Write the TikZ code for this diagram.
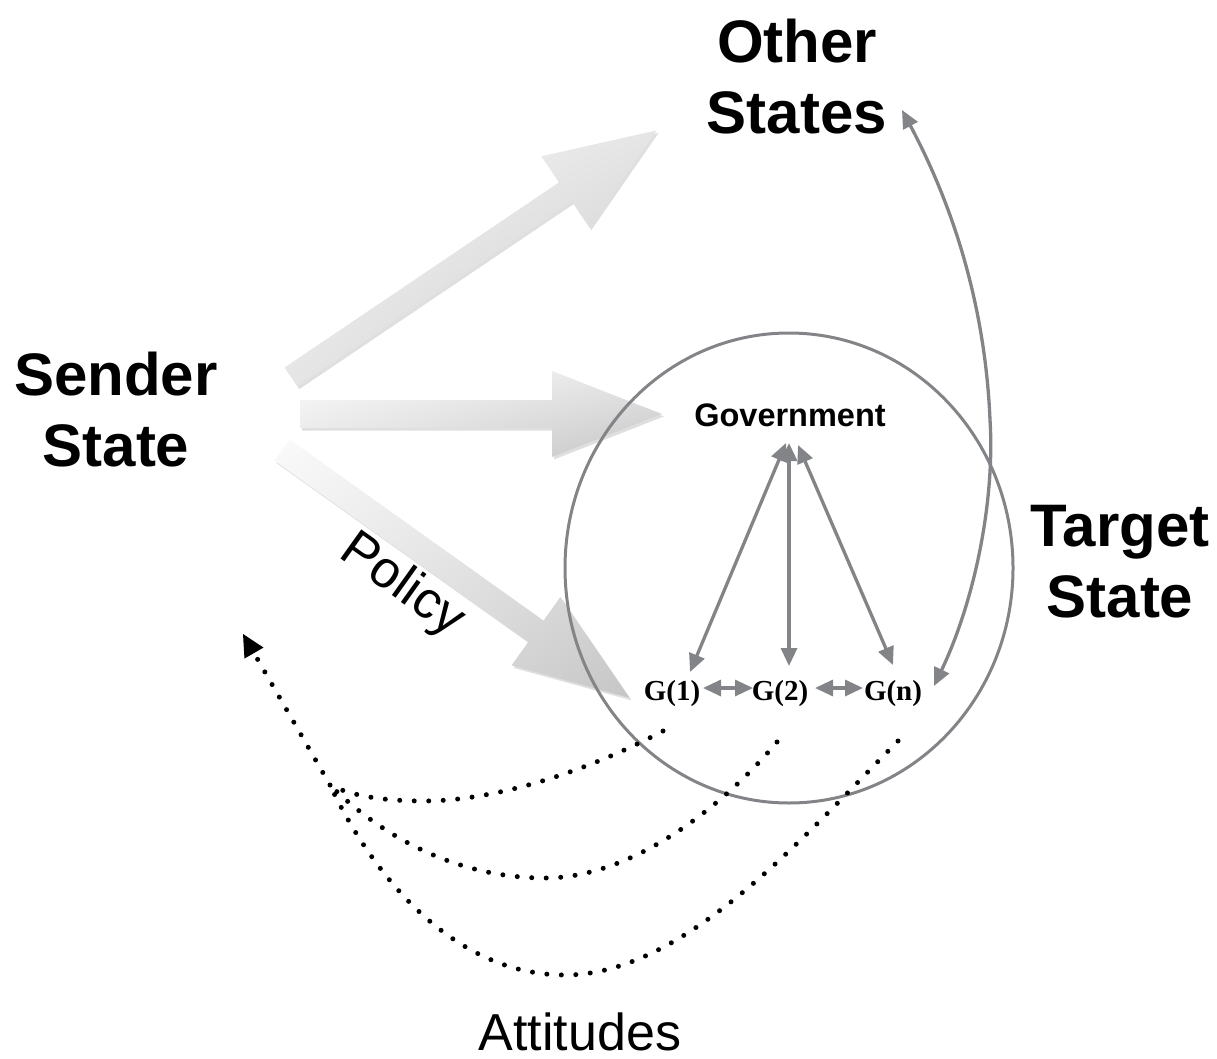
\documentclass[tikz,border=0pt]{standalone}
\usepackage{fontspec}
\setmainfont{Liberation Serif}
\setsansfont{Liberation Sans}
\usetikzlibrary{arrows.meta,shadows,shadings}
\definecolor{conncol}{RGB}{130,132,136}
\tikzset{
  fatstyle/.style={upper left=gray!4, upper right=gray!20, lower left=gray!20, lower right=gray!45,
    drop shadow={opacity=0.25, shadow xshift=2pt, shadow yshift=-2.5pt}},
  bigtext/.style={font=\sffamily\bfseries\fontsize{60}{71}\selectfont, align=center, inner sep=0pt},
  govtext/.style={font=\sffamily\bfseries\fontsize{32.5}{38}\selectfont, inner sep=0pt, anchor=base},
  gtext/.style={font=\rmfamily\bfseries\fontsize{29}{34}\selectfont, inner sep=0pt, anchor=base},
  thintext/.style={font=\sffamily\fontsize{52}{60}\selectfont, inner sep=0pt},
  conntip/.style={Triangle[length=18pt,width=16pt]},
  conn/.style={draw=conncol, line width=3.3pt, {Triangle[length=18pt,width=16pt]}-{Triangle[length=18pt,width=16pt]}},
  dots/.style={line width=5pt, dash pattern=on 0pt off 14.5pt, line cap=round}
}
\newcommand\fatarrow[7]{%
  \begin{scope}[shift={(#1,#2)},rotate=#3]
    \shade[fatstyle] (0,-#5) -- ({#4-#6},-#5) -- ({#4-#6},-#7) -- (#4,0) -- ({#4-#6},#7) -- ({#4-#6},#5) -- (0,#5) -- cycle;
  \end{scope}}
\begin{document}
\begin{tikzpicture}[x=1pt,y=-1pt]
\useasboundingbox (0,0) rectangle (1217,1059);
% big shaded arrows
\fatarrow{291}{377}{34}{441}{11.5}{110}{43}
\fatarrow{300}{414}{0}{362}{14}{110}{43}
\fatarrow{282}{450}{-35.5}{427}{13}{115}{42}
% target circle
\draw[conncol, line width=3pt] (789,568) ellipse [x radius=224pt, y radius=235pt];
% labels
\node[bigtext] (other) at (797,77) {Other\\States};
\node[bigtext] (sender) at (116,410) {Sender\\State};
\node[bigtext] (target) at (1120,562) {Target\\State};
\node[govtext] (gov) at (790,426) {Government};
\node[gtext] (g1) at (672,700) {G(1)};
\node[gtext] (g2) at (780,700) {G(2)};
\node[gtext] (gn) at (893,700) {G(n)};
\node[thintext, rotate=-35.5] (policy) at (402,586) {Policy};
\node[thintext, anchor=base] (att) at (580,1050) {Attitudes};
% connector end points
\coordinate (gv1) at (786,443);
\coordinate (gv2) at (789,443);
\coordinate (gv3) at (798,445);
\coordinate (g1t) at (690,672);
\coordinate (g2t) at (789,666);
\coordinate (gnt) at (893,665);
\coordinate (g1r) at (703,688);
\coordinate (g2l) at (753,688);
\coordinate (g2r) at (815,688);
\coordinate (gnl) at (863,688);
\coordinate (gnr) at (934,686);
\coordinate (ost) at (902,110);
% gray connectors
\draw[conn] (gv1) -- (g1t);
\draw[conn] (gv2) -- (g2t);
\draw[conn] (gv3) -- (gnt);
\draw[conn] (g1r) -- (g2l);
\draw[conn] (g2r) -- (gnl);
\draw[conn] (gnr) .. controls (975,600) and (995,500) .. (990,420) .. controls (985,300) and (950,200) .. (ost);
% dotted attitudes
\coordinate (d1) at (663,731);
\coordinate (d2) at (777,742);
\coordinate (d3) at (898,741);
\coordinate (dm) at (330,785);
\coordinate (dtip) at (243,634);
\draw[dots] (d1) .. controls (580,775) and (490,801) .. (424,801) .. controls (380,801) and (350,795) .. (dm);
\draw[dots] (d2) .. controls (720,810) and (630,878) .. (545,878) .. controls (450,878) and (375,830) .. (dm);
\draw[dots] (d3) .. controls (805,835) and (685,975) .. (565,975) .. controls (450,975) and (370,870) .. (dm);
\draw[dots, -{Triangle[length=22pt,width=22pt,line width=0pt]}] (dm) -- (dtip);
\end{tikzpicture}
\end{document}
